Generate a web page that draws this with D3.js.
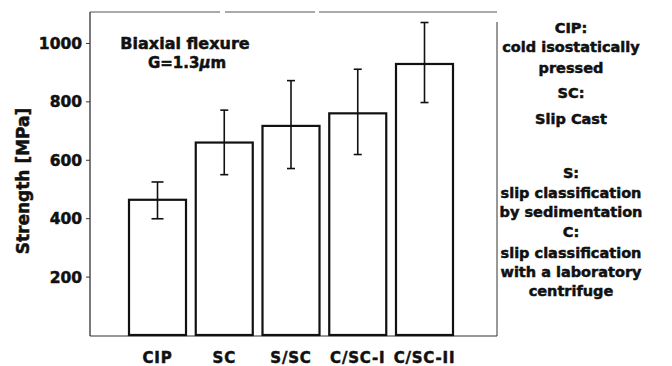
<!DOCTYPE html>
<html>
<head>
<style>
body { margin: 0; background: #fff; }
svg text { font-family: "DejaVu Sans", sans-serif; font-weight: bold; fill: #111; stroke: #111; stroke-width: 0.5px; }
</style>
<script src="https://d3js.org/d3.v7.min.js"></script>
</head>
<body>
<svg id="chart" width="672" height="366"></svg>
<script>
// values
var categories = ["CIP", "SC", "S/SC", "C/SC-I", "C/SC-II"];
var strength = [463, 659, 716, 759, 928];
var errLow = [398, 549, 570, 618, 796];
var errHigh = [524, 770, 871, 910, 1070];
var yTicks = [200, 400, 600, 800, 1000];
var notes = [
  ["CIP:", 33], ["cold isostatically", 52], ["pressed", 73],
  ["SC:", 98], ["Slip Cast", 124],
  ["S:", 178], ["slip classification", 198], ["by sedimentation", 217],
  ["C:", 237], ["slip classification", 258], ["with a laboratory", 277], ["centrifuge", 296]
];

var svg = d3.select("#chart");
var plotL = 90, plotR = 497, plotT = 12, plotB = 335;

var y = d3.scaleLinear().domain([0, 1106]).range([plotB, plotT]);
var x = d3.scaleBand().domain(categories).range([129, 453]).paddingInner(0.146).paddingOuter(0);

// frame (top edge is faint and broken in the scan)
svg.append("line").attr("x1", plotL).attr("x2", plotR).attr("y1", plotT).attr("y2", plotT)
  .attr("stroke", "#555").attr("stroke-width", 1).attr("stroke-dasharray", "130,5,90,4,180");
svg.append("line").attr("x1", plotR).attr("x2", plotR).attr("y1", plotT + 10).attr("y2", plotB + 1)
  .attr("stroke", "#333").attr("stroke-width", 1);
svg.append("line").attr("x1", plotL).attr("x2", plotR).attr("y1", plotB + 1).attr("y2", plotB + 1)
  .attr("stroke", "#333").attr("stroke-width", 1.2);

// y axis
var yAxis = d3.axisLeft(y).tickValues(yTicks).tickFormat(d3.format("d"))
  .tickSize(4).tickPadding(4).tickSizeOuter(0);
var gy = svg.append("g").attr("transform", "translate(" + plotL + ",0)").call(yAxis);
gy.select(".domain").attr("stroke", "#222").attr("stroke-width", 1.2)
  .attr("d", "M0," + plotT + "V" + (plotB + 1));
gy.selectAll(".tick line").attr("stroke", "#333");
gy.selectAll(".tick text").style("font-size", "15.5px").attr("fill", "#111").attr("dy", "0.36em");

svg.append("text")
  .attr("transform", "translate(29,181) rotate(-90)")
  .attr("text-anchor", "middle")
  .style("font-size", "17px")
  .text("Strength [MPa]");

// bars
svg.append("g").selectAll("rect").data(categories).enter().append("rect")
  .attr("x", function(d) { return x(d); })
  .attr("y", function(d, i) { return y(strength[i]); })
  .attr("width", x.bandwidth())
  .attr("height", function(d, i) { return y(0) - y(strength[i]); })
  .attr("fill", "#fff").attr("stroke", "#111").attr("stroke-width", 2.2);

// error bars
var eb = svg.append("g").selectAll("g").data(categories).enter().append("g")
  .attr("stroke", "#111").attr("stroke-width", 1.6);
eb.append("line")
  .attr("x1", function(d) { return x(d) + x.bandwidth() / 2; })
  .attr("x2", function(d) { return x(d) + x.bandwidth() / 2; })
  .attr("y1", function(d, i) { return y(errLow[i]); })
  .attr("y2", function(d, i) { return y(errHigh[i]); });
[errLow, errHigh].forEach(function(arr) {
  eb.append("line")
    .attr("x1", function(d, i) { return x(d) + x.bandwidth() / 2 - (i === 0 ? 6 : 4); })
    .attr("x2", function(d, i) { return x(d) + x.bandwidth() / 2 + (i === 0 ? 6 : 4); })
    .attr("y1", function(d, i) { return y(arr[i]); })
    .attr("y2", function(d, i) { return y(arr[i]); });
});

// x labels
svg.append("g").selectAll("text").data(categories).enter().append("text")
  .attr("x", function(d) { return x(d) + x.bandwidth() / 2; })
  .attr("y", 363)
  .attr("text-anchor", "middle")
  .style("font-size", "15px")
  .style("letter-spacing", "0.8px")
  .text(function(d) { return d; });

// title
svg.append("text").attr("x", 185).attr("y", 49).attr("text-anchor", "middle")
  .style("font-size", "16px").text("Biaxial flexure");
var g2 = svg.append("text").attr("x", 187).attr("y", 68).attr("text-anchor", "middle")
  .style("font-size", "15px");
g2.append("tspan").text("G=1.3");
g2.append("tspan").style("font-style", "italic").text("\u03bc");
g2.append("tspan").text("m");

// notes on the right
svg.append("g").selectAll("text").data(notes).enter().append("text")
  .attr("x", 571)
  .attr("y", function(d) { return d[1]; })
  .attr("text-anchor", "middle")
  .style("font-size", "14.5px")
  .text(function(d) { return d[0]; });
</script>
</body>
</html>
